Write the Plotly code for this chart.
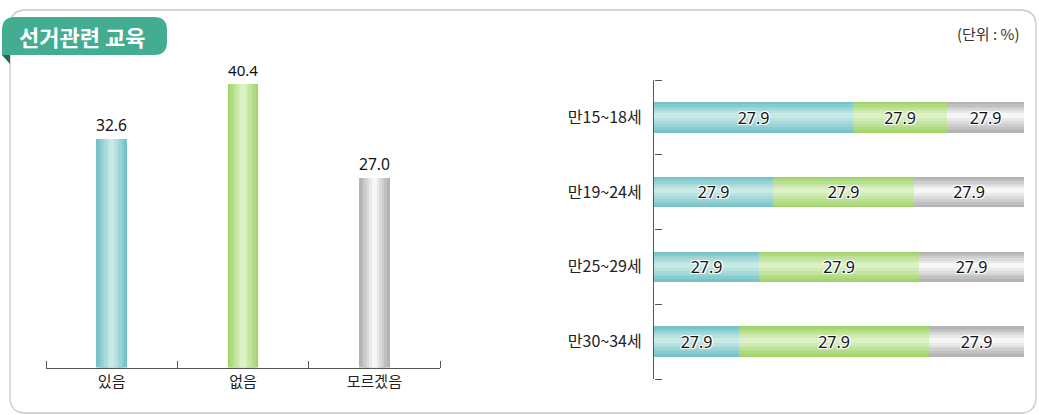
import numpy as np
import plotly.graph_objects as go

# ---------------- data ----------------
left_categories = ["있음", "없음", "모르겠음"]
left_values = [32.6, 40.4, 27.0]
left_labels = ["32.6", "40.4", "27.0"]

age_groups = ["만15~18세", "만19~24세", "만25~29세", "만30~34세"]
seg_yes = [53.7, 32.1, 28.5, 23.1]
seg_no = [25.6, 38.1, 43.0, 51.1]
seg_dk = [20.7, 29.8, 28.5, 25.8]
seg_labels = ["27.9", "27.9", "27.9", "27.9"]  # labels as printed in the source

title_text = "선거관련 교육"
unit_text = "(단위 : %)"

# ---------------- style ----------------
FONT = "Noto Sans CJK KR"
NUMFONT = "Noto Sans, Noto Sans CJK KR"
W, H = 1039, 415
NL = 6  # gradient layers


def hex2rgb(h):
    h = h.lstrip("#")
    return [int(h[i:i + 2], 16) for i in (0, 2, 4)]


def ramp(edge, mid, n):
    a, b = hex2rgb(edge), hex2rgb(mid)
    out = []
    for i in range(n):
        t = i / (n - 1)
        c = [round(a[j] + (b[j] - a[j]) * t) for j in range(3)]
        out.append(f"rgb({c[0]},{c[1]},{c[2]})")
    return out


teal = ramp("#78c3c9", "#c8eae6", NL)
green = ramp("#a3d56f", "#dcf1c6", NL)
gray = ramp("#b3b3b3", "#f6f6f6", NL)


def px(x, y):
    return x / W, 1 - y / H


fig = go.Figure()

# ---------------- left chart ----------------
LBW = 0.232
for k in range(NL):
    w = LBW * (1 - k / NL)
    fig.add_trace(go.Bar(
        x=left_categories, y=left_values, width=w,
        marker=dict(color=[teal[k], green[k], gray[k]], line=dict(width=0)),
        text=left_labels if k == 0 else None,
        textposition="outside" if k == 0 else "none",
        textfont=dict(family=NUMFONT, size=16, color="#111"),
        cliponaxis=False, xaxis="x", yaxis="y", showlegend=False,
        hoverinfo="skip",
    ))

# ---------------- right chart ----------------
segs = [seg_yes, seg_no, seg_dk]
cols = [teal, green, gray]
bases = [np.zeros(4), np.array(seg_yes), np.array(seg_yes) + np.array(seg_no)]
RBW = 0.41
for s in range(3):
    for k in range(NL):
        w = RBW * (1 - k / NL)
        fig.add_trace(go.Bar(
            y=age_groups, x=segs[s], base=bases[s], orientation="h", width=w,
            offset=-w / 2 - RBW * 0.06 * (k / NL),
            marker=dict(color=cols[s][k], line=dict(width=0)),
            textposition="none", xaxis="x2", yaxis="y2", showlegend=False,
            hoverinfo="skip",
        ))
    fig.add_trace(go.Bar(
        y=age_groups, x=segs[s], base=bases[s], orientation="h", width=RBW,
        marker=dict(color="rgba(0,0,0,0)", line=dict(width=0)),
        text=seg_labels, textposition="inside", insidetextanchor="middle",
        textangle=0, constraintext="none",
        textfont=dict(family=NUMFONT, size=16, color="#111",
                      shadow="-1px -1px 0 #fff, 1px -1px 0 #fff, -1px 1px 0 #fff, 1px 1px 0 #fff"),
        xaxis="x2", yaxis="y2", showlegend=False, hoverinfo="skip",
    ))

# ---------------- decorations ----------------
shapes = []


def P(x, y):
    a, b = px(x, y)
    return f"{a:.5f},{b:.5f}"


# panel border
x0, y0, x1, y1, r = 10, 10, 1036, 413, 16
panel = (f"M {P(x0+r,y0)} L {P(x1-r,y0)} Q {P(x1,y0)} {P(x1,y0+r)} "
         f"L {P(x1,y1-r)} Q {P(x1,y1)} {P(x1-r,y1)} L {P(x0+r,y1)} "
         f"Q {P(x0,y1)} {P(x0,y1-r)} L {P(x0,y0+r)} Q {P(x0,y0)} {P(x0+r,y0)} Z")
shapes.append(dict(type="path", path=panel, xref="paper", yref="paper",
                   line=dict(color="#c8c8c8", width=1.3), fillcolor="rgba(0,0,0,0)", layer="below"))
# title tab
tx0, ty0, tx1, ty1, tr = 2, 17, 167, 55, 13
tab = (f"M {P(tx0,ty1)} L {P(tx0,ty0+tr)} Q {P(tx0,ty0)} {P(tx0+tr,ty0)} "
       f"L {P(tx1-tr,ty0)} Q {P(tx1,ty0)} {P(tx1,ty0+tr)} L {P(tx1,ty1-tr)} "
       f"Q {P(tx1,ty1)} {P(tx1-tr,ty1)} Z")
shapes.append(dict(type="path", path=tab, xref="paper", yref="paper",
                   line=dict(width=0), fillcolor="#43ad92", layer="above"))
fold = f"M {P(2,55)} L {P(10,55)} L {P(10,64)} Z"
shapes.append(dict(type="path", path=fold, xref="paper", yref="paper",
                   line=dict(width=0), fillcolor="#1f6b5a", layer="above"))

annotations = [
    dict(text=title_text, x=px(82, 0)[0], y=px(0, 36)[1], xref="paper", yref="paper",
         showarrow=False, xanchor="center", yanchor="middle",
         font=dict(family=FONT, size=22, color="white", weight="bold")),
    dict(text=unit_text, x=px(1021, 0)[0], y=px(0, 33)[1], xref="paper", yref="paper",
         showarrow=False, xanchor="right", yanchor="middle",
         font=dict(family=FONT, size=15, color="#333")),
]

axis_col = "#555"
tick_common = dict(ticks="outside", ticklen=7, tickcolor=axis_col, tickwidth=1.2,
                   showgrid=False, zeroline=False, fixedrange=True,
                   showticklabels=False, showline=False, anchor="free")
left_dom_x = [46 / W, 440 / W]
left_dom_y = [px(0, 367.5)[1], px(0, 62)[1]]
right_dom_x = [654 / W, 1024 / W]
right_dom_y = [px(0, 379)[1], px(0, 80)[1]]
nL, nR = len(left_categories), len(age_groups)


def boundaries(n):
    return [i - 0.5 for i in range(n + 1)]


fig.update_layout(
    width=W, height=H, margin=dict(l=0, r=0, t=0, b=0),
    paper_bgcolor="white", plot_bgcolor="rgba(0,0,0,0)",
    barmode="overlay", bargap=0, showlegend=False,
    shapes=shapes, annotations=annotations,
    font=dict(family=FONT, color="#222"),
    xaxis=dict(domain=left_dom_x, range=[-0.5, nL - 0.5], showline=True, linecolor=axis_col,
               linewidth=1.2, ticks="", showgrid=False, zeroline=False,
               tickfont=dict(family=FONT, size=15, color="#222"), anchor="y", fixedrange=True),
    # tick-only axis drawn on the top side of the baseline so its outside ticks point up
    xaxis3=dict(domain=left_dom_x, range=[-0.5, nL - 0.5], overlaying="x",
                side="top", position=left_dom_y[0], tickmode="array",
                tickvals=boundaries(nL), **tick_common),
    yaxis=dict(domain=left_dom_y, range=[0, 43.6], visible=False,
               showgrid=False, zeroline=False, anchor="x", fixedrange=True),
    xaxis2=dict(domain=right_dom_x, range=[0, 100], visible=False,
                showgrid=False, zeroline=False, anchor="y2", fixedrange=True),
    yaxis2=dict(domain=right_dom_y, range=[nR - 0.5, -0.5],
                showline=True, linecolor=axis_col, linewidth=1.2, ticks="",
                showgrid=False, zeroline=False, ticklabelstandoff=8,
                tickfont=dict(family=FONT, size=16, color="#222"),
                anchor="x2", fixedrange=True),
    # tick-only axis on the right side of the left edge so its outside ticks point right
    yaxis3=dict(domain=right_dom_y, range=[nR - 0.5, -0.5], overlaying="y2",
                side="right", position=right_dom_x[0], tickmode="array",
                tickvals=boundaries(nR), **tick_common),
)
# invisible traces so the tick-only axes get drawn
fig.add_trace(go.Scatter(x=[0], y=[0], xaxis="x3", yaxis="y", mode="markers",
                         marker=dict(opacity=0), showlegend=False, hoverinfo="skip"))
fig.add_trace(go.Scatter(x=[0], y=[0], xaxis="x2", yaxis="y3", mode="markers",
                         marker=dict(opacity=0), showlegend=False, hoverinfo="skip"))

fig.write_html("out.html", config={"displayModeBar": False},
               post_script="document.body.style.margin='0px';document.body.style.overflow='hidden';")
